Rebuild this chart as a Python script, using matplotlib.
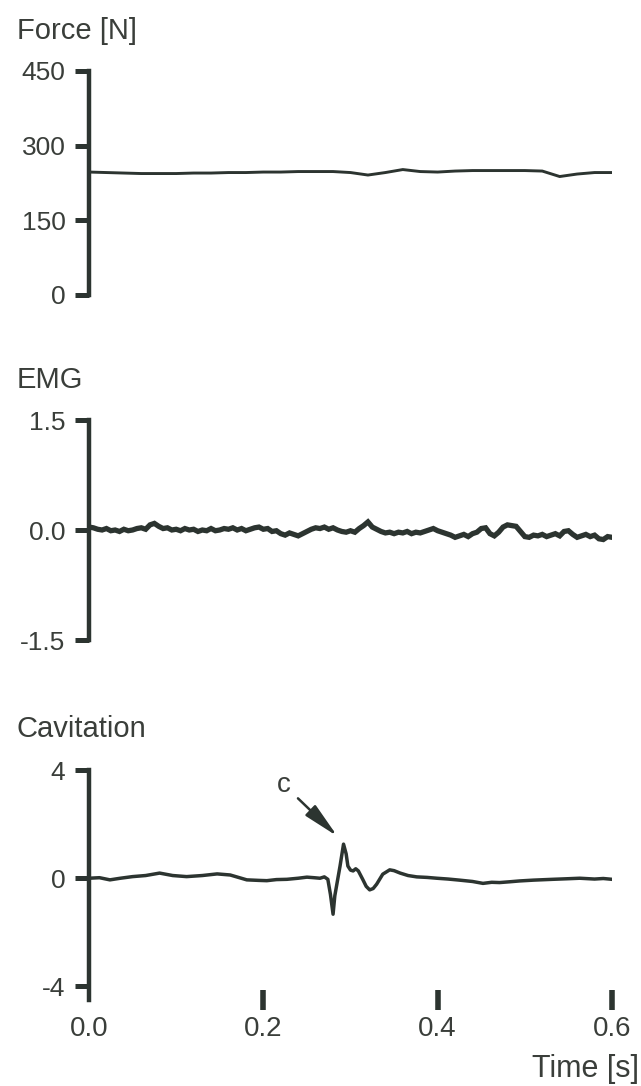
import numpy as np
import matplotlib.pyplot as plt

plt.rcParams["font.family"] = ["Liberation Sans", "DejaVu Sans"]
plt.rcParams["axes.unicode_minus"] = False

INK = "#3a3e3a"
LINE = "#2c3430"

# Force [N], sampled every 0.02 s
force_t = np.arange(0, 0.6001, 0.02)
force = [247, 246, 245, 244, 244, 244, 245, 245, 246, 246,
         247, 247, 248, 248, 248, 246, 241, 246, 252, 248,
         247, 249, 250, 250, 250, 250, 249, 238, 243, 246, 246]

# EMG, sampled every 0.005 s
emg_t = np.arange(0, 0.6001, 0.005)
emg = [0.04, 0.03, 0.01, 0.00, 0.02, -0.01, 0.00, -0.02, 0.01, -0.01,
       0.00, 0.02, 0.03, 0.01, 0.07, 0.09, 0.05, 0.02, 0.03, 0.00,
       0.01, -0.01, 0.02, 0.00, 0.01, -0.02, 0.00, -0.01, 0.02, -0.01,
       0.00, 0.02, 0.01, 0.03, 0.00, 0.02, -0.01, 0.01, 0.03, 0.04,
       0.01, 0.02, -0.02, -0.01, -0.05, -0.07, -0.04, -0.06, -0.08, -0.05,
       -0.02, 0.01, 0.03, 0.02, 0.04, 0.01, 0.03, 0.00, -0.02, -0.03,
       -0.01, -0.03, 0.02, 0.06, 0.11, 0.04, 0.01, -0.02, -0.04, -0.03,
       -0.05, -0.03, -0.04, -0.02, -0.05, -0.03, -0.04, -0.02, 0.00, 0.02,
       -0.01, -0.03, -0.05, -0.07, -0.10, -0.08, -0.06, -0.09, -0.05, -0.03,
       0.02, 0.03, -0.05, -0.08, -0.03, 0.04, 0.07, 0.06, 0.05, -0.02,
       -0.09, -0.10, -0.07, -0.08, -0.06, -0.09, -0.07, -0.05, -0.08, -0.02,
       -0.01, -0.06, -0.10, -0.08, -0.06, -0.09, -0.07, -0.12, -0.13, -0.09,
       -0.10]

# Cavitation (denser around the event c)
cav_t = [0.000, 0.012, 0.024, 0.036, 0.050, 0.065, 0.081, 0.096, 0.112, 0.130,
         0.147, 0.162, 0.181, 0.195, 0.204, 0.215, 0.227, 0.240, 0.250, 0.258,
         0.265, 0.270, 0.274, 0.277, 0.280, 0.282, 0.285, 0.288, 0.292, 0.295,
         0.297, 0.300, 0.303, 0.306, 0.309, 0.314, 0.318, 0.322, 0.326, 0.330,
         0.337, 0.345, 0.350, 0.357, 0.366, 0.376, 0.388, 0.399, 0.412, 0.425,
         0.440, 0.452, 0.462, 0.471, 0.483, 0.494, 0.510, 0.532, 0.548, 0.563,
         0.580, 0.590, 0.600]
cav = [0.00, 0.02, -0.06, 0.00, 0.06, 0.10, 0.19, 0.10, 0.06, 0.10,
       0.16, 0.12, -0.06, -0.08, -0.09, -0.05, -0.04, 0.00, 0.04, 0.02,
       0.00, 0.05, -0.04, -0.60, -1.33, -0.65, -0.10, 0.45, 1.26, 0.90,
       0.45, 0.30, 0.27, 0.35, 0.27, -0.04, -0.30, -0.43, -0.38, -0.22,
       0.15, 0.31, 0.28, 0.19, 0.10, 0.05, 0.03, 0.00, -0.03, -0.07,
       -0.12, -0.19, -0.15, -0.16, -0.13, -0.10, -0.07, -0.04, -0.02, 0.00,
       -0.03, -0.01, -0.04]

W, H = 641, 1086
fig = plt.figure(figsize=(W / 100, H / 100), dpi=100)
fig.patch.set_facecolor("white")

x0, x1 = 89 / W, 612 / W


def make_axes(top_px, bottom_px):
    ax = fig.add_axes([x0, 1 - bottom_px / H, x1 - x0, (bottom_px - top_px) / H])
    ax.set_facecolor("none")
    for side in ["top", "right", "bottom"]:
        ax.spines[side].set_visible(False)
    ax.spines["left"].set_linewidth(3.2)
    ax.spines["left"].set_color(LINE)
    ax.tick_params(axis="y", length=10, width=3.6, color=LINE, pad=7,
                   labelsize=19, labelcolor=INK)
    ax.set_xlim(0, 0.6)
    return ax


# Force
ax1 = make_axes(71, 295)
ax1.plot(force_t, force, color=LINE, lw=2.1)
ax1.set_ylim(0, 450)
ax1.set_yticks([0, 150, 300, 450])
ax1.set_xticks([])

# EMG
ax2 = make_axes(420, 640)
ax2.plot(emg_t, emg, color=LINE, lw=3.8, solid_joinstyle="miter")
ax2.set_ylim(-1.5, 1.5)
ax2.set_yticks([-1.5, 0.0, 1.5])
ax2.set_yticklabels(["-1.5", "0.0", "1.5"])
ax2.set_xticks([])

# Cavitation
ax3 = make_axes(770, 1000)
ax3.plot(cav_t, cav, color=LINE, lw=2.5)
ax3.set_ylim(-4.5, 4)
ax3.set_yticks([-4, 0, 4])
ax3.set_xticks([0.0, 0.2, 0.4, 0.6])
ax3.set_xticklabels(["0.0", "0.2", "0.4", "0.6"])
ax3.tick_params(axis="x", direction="inout", length=15, width=4, color=LINE,
                pad=4, labelsize=20, labelcolor=INK)
ax3.xaxis.get_major_ticks()[0].tick1line.set_visible(False)

ax3.annotate("c", xy=(0.285, 1.55), xytext=(0.224, 3.44), fontsize=20, color=INK,
             ha="center", va="center",
             arrowprops=dict(arrowstyle="-|>,head_length=1.1,head_width=0.22",
                             color=LINE, lw=1.8, shrinkA=4, shrinkB=0))

# panel titles
fig.text(17 / W, 1 - 39 / H, "Force [N]", fontsize=21, color=INK, ha="left", va="baseline")
fig.text(17 / W, 1 - 388 / H, "EMG", fontsize=21, color=INK, ha="left", va="baseline")
fig.text(17 / W, 1 - 737 / H, "Cavitation", fontsize=21, color=INK, ha="left", va="baseline")
fig.text(639 / W, 1 - 1077 / H, "Time [s]", fontsize=22, color=INK, ha="right", va="baseline")

plt.savefig("out.png", dpi=100, facecolor=fig.get_facecolor())
plt.close()
